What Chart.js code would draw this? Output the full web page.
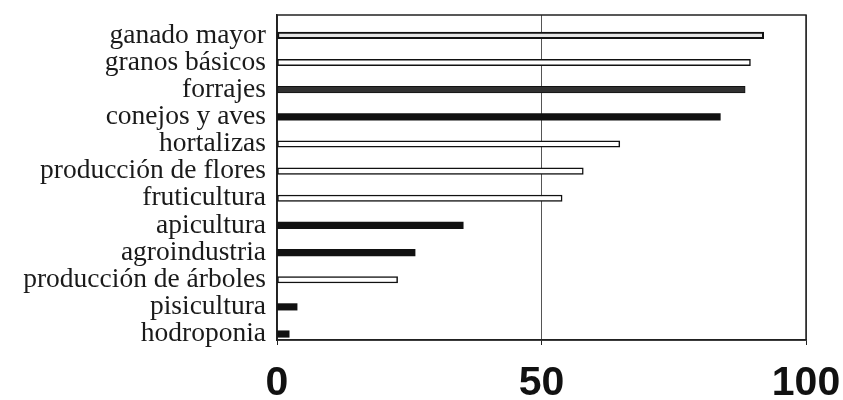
<!DOCTYPE html>
<html><head><meta charset="utf-8">
<script src="https://cdn.jsdelivr.net/npm/chart.js@4"></script>
<style>html,body{margin:0;padding:0;background:#fff}</style>
</head><body>
<canvas id="c" width="843" height="400"></canvas>
<script>
// ---- data ----
const categories = ['ganado mayor','granos básicos','forrajes','conejos y aves','hortalizas','producción de flores','fruticultura','apicultura','agroindustria','producción de árboles','pisicultura','hodroponia'];
const values = [92, 89.5, 88.5, 83.8, 64.8, 57.9, 53.9, 35.2, 26.1, 22.8, 3.8, 2.3];
const xTickValues = [0, 50, 100];

// ---- styles (kept apart from data) ----
const barFills = ['#e4e4e4','#ffffff','#303030','#111111','#ffffff','#ffffff','#ffffff','#111111','#111111','#ffffff','#111111','#111111'];
const barBorders = [2, 1.5, 1, 0, 1.5, 1.5, 1.5, 0, 0, 1.5, 0, 0];

const framePlugin = {
  id: 'frame',
  beforeDatasetsDraw(chart) {
    const {ctx, chartArea: a} = chart;
    ctx.save();
    ctx.strokeStyle = '#222';
    ctx.lineWidth = 1.5;
    ctx.strokeRect(a.left, a.top, a.right - a.left, a.bottom - a.top);
    ctx.restore();
  }
};

new Chart(document.getElementById('c'), {
  type: 'bar',
  data: {
    datasets: [{
      data: values.map((v, i) => ({x: v, y: i})),
      backgroundColor: barFills,
      borderColor: '#111',
      borderWidth: barBorders,
      borderSkipped: false,
      barThickness: 6.5
    }]
  },
  options: {
    indexAxis: 'y',
    responsive: false,
    animation: false,
    layout: {padding: {top: 15, right: 37, left: 0, bottom: 0}},
    plugins: {legend: {display: false}, tooltip: {enabled: false}},
    scales: {
      x: {
        type: 'linear', min: 0, max: 100, offset: false,
        afterBuildTicks: s => { s.ticks = xTickValues.map(v => ({value: v})); },
        ticks: {font: {family: 'Liberation Sans', size: 41, weight: 'bold'}, color: '#111', padding: 14, maxRotation: 0, autoSkip: false},
        grid: {color: '#555', lineWidth: 1, tickLength: 5, tickColor: '#222'},
        border: {color: '#222', width: 1.5},
        afterFit: s => { s.height = 60; s.paddingLeft = 0; s.paddingRight = 0; }
      },
      y: {
        type: 'linear', reverse: true, min: -0.75, max: 11.22, offset: false,
        afterBuildTicks: s => { s.ticks = categories.map((_, i) => ({value: i})); },
        ticks: {callback: v => categories[v], font: {family: 'Liberation Serif', size: 27.5}, color: '#1a1a1a', padding: 11, autoSkip: false},
        grid: {display: false, drawTicks: false, offset: false},
        border: {display: true, color: '#222', width: 1.5},
        afterFit: s => { s.width = 277; s.paddingTop = 0; s.paddingBottom = 0; }
      }
    }
  },
  plugins: [framePlugin]
});
</script>
</body></html>
